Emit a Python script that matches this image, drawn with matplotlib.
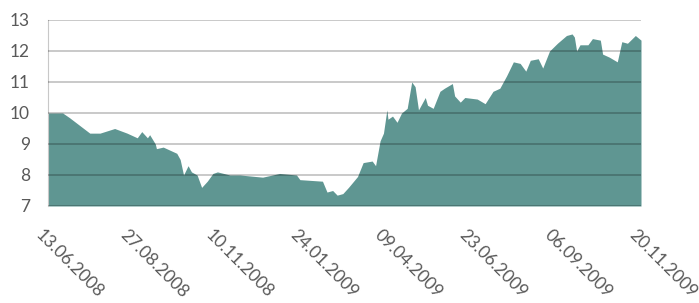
import pandas as pd
import matplotlib.pyplot as plt
import matplotlib.transforms as mtransforms

# Data
dates = [
    '2008-06-13', '2008-06-26', '2008-07-02', '2008-07-11', '2008-07-20', '2008-07-29',
    '2008-08-11', '2008-08-22', '2008-08-31', '2008-09-04', '2008-09-09', '2008-09-11',
    '2008-09-16', '2008-09-17', '2008-09-23', '2008-09-29', '2008-10-05', '2008-10-08',
    '2008-10-11', '2008-10-15', '2008-10-18', '2008-10-23', '2008-10-27', '2008-11-01',
    '2008-11-06', '2008-11-10', '2008-11-21', '2008-11-30', '2008-12-20', '2009-01-04',
    '2009-01-19', '2009-01-22', '2009-02-11', '2009-02-15', '2009-02-20', '2009-02-24',
    '2009-03-01', '2009-03-06', '2009-03-14', '2009-03-19', '2009-03-27', '2009-03-30',
    '2009-04-03', '2009-04-06', '2009-04-09', '2009-04-10', '2009-04-14', '2009-04-18',
    '2009-04-22', '2009-04-27', '2009-05-01', '2009-05-04', '2009-05-07', '2009-05-13',
    '2009-05-15', '2009-05-20', '2009-05-26', '2009-05-30', '2009-06-06', '2009-06-08',
    '2009-06-13', '2009-06-17', '2009-06-28', '2009-07-05', '2009-07-12', '2009-07-18',
    '2009-07-24', '2009-07-30', '2009-08-05', '2009-08-10', '2009-08-14', '2009-08-21',
    '2009-08-25', '2009-08-31', '2009-09-07', '2009-09-15', '2009-09-20', '2009-09-22',
    '2009-09-24', '2009-09-27', '2009-10-04', '2009-10-08', '2009-10-15', '2009-10-17',
    '2009-10-23', '2009-10-30', '2009-11-03', '2009-11-08', '2009-11-15', '2009-11-20',
]
values = [
    10.0, 10.0, 9.85, 9.6, 9.35, 9.35,
    9.5, 9.35, 9.2, 9.4, 9.2, 9.3,
    9.0, 8.85, 8.9, 8.8, 8.7, 8.5,
    8.0, 8.3, 8.1, 8.0, 7.6, 7.8,
    8.05, 8.1, 8.0, 8.0, 7.93, 8.05,
    8.0, 7.85, 7.8, 7.45, 7.5, 7.35,
    7.4, 7.6, 7.95, 8.4, 8.45, 8.3,
    9.1, 9.35, 10.1, 9.8, 9.9, 9.7,
    10.0, 10.15, 11.0, 10.85, 10.1, 10.5,
    10.25, 10.15, 10.7, 10.8, 10.95, 10.55,
    10.35, 10.5, 10.45, 10.3, 10.7, 10.8,
    11.2, 11.65, 11.6, 11.35, 11.7, 11.75,
    11.45, 12.0, 12.25, 12.5, 12.55, 12.45,
    12.0, 12.2, 12.2, 12.4, 12.35, 11.9,
    11.8, 11.65, 12.3, 12.25, 12.5, 12.35,
]
tick_dates = ['2008-06-13', '2008-08-27', '2008-11-10', '2009-01-24',
              '2009-04-09', '2009-06-23', '2009-09-06', '2009-11-20']

x = pd.to_datetime(dates)
ticks = pd.to_datetime(tick_dates)

plt.rcParams['font.family'] = ['Lato', 'DejaVu Sans']

fig = plt.figure(figsize=(6.99, 3.03), dpi=100)
ax = fig.add_axes([48 / 699, 1 - 206 / 303, 593 / 699, 186 / 303])

ax.fill_between(x, 7, values, color='#5f9692', lw=0, zorder=1)

ax.set_ylim(7, 13)
ax.set_yticks(range(7, 14))
ax.set_xlim(ticks[0], ticks[-1])
ax.set_xticks(ticks)
ax.set_xticklabels([t.strftime('%d.%m.%Y') for t in ticks])
ax.grid(axis='y', color='black', alpha=0.25, lw=1.2, zorder=2)
ax.set_axisbelow(False)

for s in ['top', 'right', 'bottom']:
    ax.spines[s].set_visible(False)
ax.spines['left'].set_color('#c8c8c8')

ax.tick_params(axis='both', length=0, colors='#595959')
ax.tick_params(axis='y', pad=13, labelsize=12.5)
ax.tick_params(axis='x', pad=15)
shift = mtransforms.ScaledTranslation(-4 / 100, 0, fig.dpi_scale_trans)
for lbl in ax.get_xticklabels():
    lbl.set_rotation(-45)
    lbl.set_ha('left')
    lbl.set_va('top')
    lbl.set_rotation_mode('anchor')
    lbl.set_fontsize(12.5)
    lbl.set_transform(lbl.get_transform() + shift)

fig.savefig('out.png', dpi=100)
